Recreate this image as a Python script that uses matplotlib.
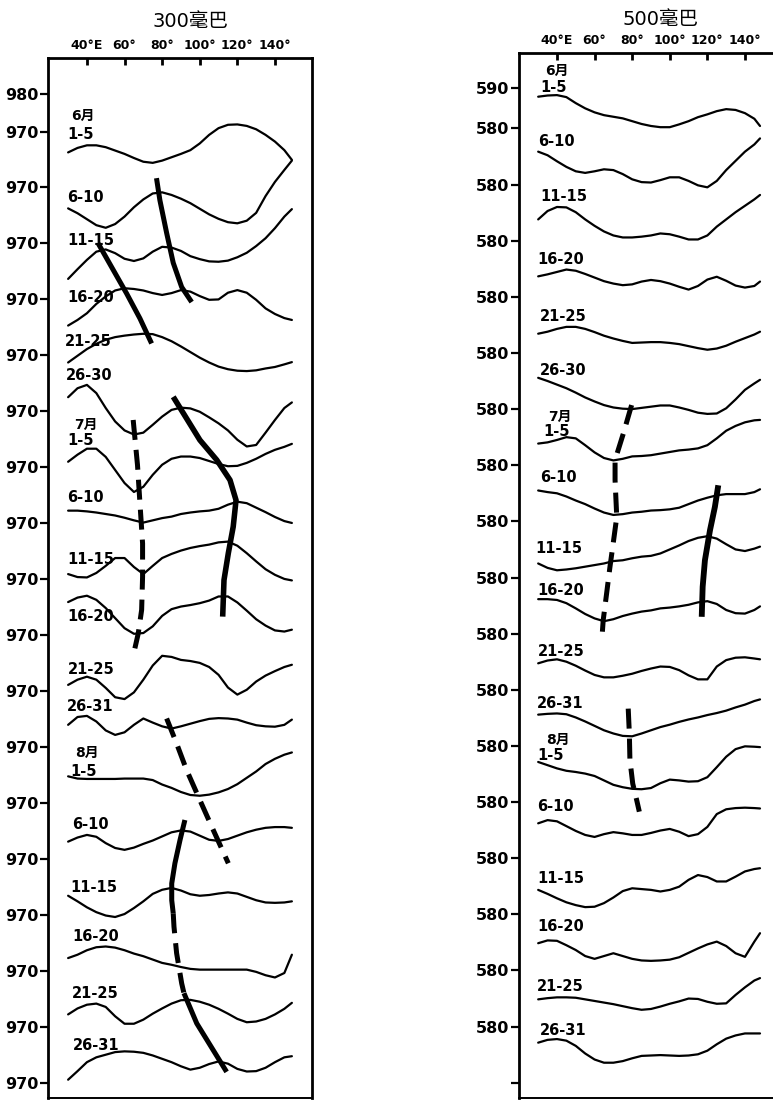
"""
Hemisphere 5-day mean height profiles at 300 hPa and 500 hPa,
June - August, with ridge (solid) and trough (dashed) axes.
Output: out.png
"""

import numpy as np
import matplotlib
matplotlib.use("Agg")
import matplotlib.pyplot as plt

plt.rcParams["font.family"] = ["DejaVu Sans", "Noto Sans CJK SC"]

# ---------------------------------------------------------------- data
LON_300 = [30, 35, 40, 45, 50, 55, 60, 65, 70, 75, 80, 85, 90, 95,
           100, 105, 110, 115, 120, 125, 130, 135, 140, 145, 149]
LON_500 = [30, 35, 40, 45, 50, 55, 60, 65, 70, 75, 80, 85, 90, 95,
           100, 105, 110, 115, 120, 125, 130, 135, 140, 145, 148]

PERIODS = ["1-5", "6-10", "11-15", "16-20", "21-25", "26-30",
           "1-5", "6-10", "11-15", "16-20", "21-25", "26-31",
           "1-5", "6-10", "11-15", "16-20", "21-25", "26-31"]
MONTHS = {0: "6月", 6: "7月", 12: "8月"}

# 300 hPa heights (dam), one row per pentad
H300 = [
    [964.4, 965.6, 966.3, 966.3, 965.8, 964.9, 964.0, 962.9, 961.9, 961.6, 962.2, 963.1, 964.0,
     965.0, 966.8, 969.1, 970.9, 971.8, 971.9, 971.5, 970.6, 969.1, 967.3, 965.0, 962.4],
    [964.4, 963.1, 961.5, 959.9, 959.2, 960.2, 962.2, 964.7, 966.8, 968.4, 968.7, 968.0, 967.0,
     965.8, 964.3, 962.8, 961.6, 960.7, 960.4, 961.1, 963.2, 967.7, 971.5, 974.7, 977.2],
    [960.5, 963.1, 965.6, 967.8, 968.4, 967.4, 965.9, 965.3, 966.0, 967.8, 969.1, 968.9, 968.0,
     966.6, 965.8, 965.2, 965.1, 965.4, 966.3, 967.5, 969.3, 971.4, 974.1, 977.2, 979.2],
    [963.0, 964.5, 966.3, 968.8, 970.8, 972.4, 973.0, 972.8, 972.4, 971.7, 971.2, 971.7, 972.5,
     972.1, 970.9, 969.9, 970.0, 971.8, 972.5, 971.8, 969.9, 967.6, 966.1, 965.0, 964.5],
    [968.1, 969.9, 971.7, 973.1, 974.2, 974.9, 975.3, 975.6, 975.8, 975.7, 974.9, 973.8, 972.4,
     970.9, 969.4, 968.1, 967.0, 966.3, 965.9, 965.8, 966.0, 966.5, 966.9, 967.6, 968.2],
    [973.8, 976.2, 977.1, 974.9, 970.9, 967.3, 964.9, 963.8, 964.3, 966.4, 968.6, 970.4, 971.0,
     970.8, 969.9, 968.4, 966.8, 964.9, 962.4, 960.6, 961.0, 964.3, 967.7, 970.9, 972.4],
    [971.5, 973.4, 975.0, 975.0, 972.8, 969.3, 965.8, 963.4, 964.8, 968.0, 970.7, 972.3, 972.9,
     972.9, 972.5, 971.7, 970.9, 970.3, 970.4, 971.2, 972.3, 973.6, 974.7, 975.5, 976.3],
    [973.4, 973.4, 973.2, 972.9, 972.5, 972.1, 971.5, 970.8, 970.2, 970.8, 971.4, 971.8, 972.5,
     972.9, 973.2, 973.4, 973.9, 975.0, 975.8, 975.4, 974.2, 973.0, 971.7, 970.6, 970.1],
    [971.4, 970.6, 970.5, 971.7, 973.6, 975.7, 975.7, 973.3, 971.4, 973.6, 975.7, 976.8, 977.7,
     978.4, 978.9, 979.3, 979.9, 980.1, 979.0, 977.0, 974.8, 972.7, 971.2, 970.1, 969.7],
    [978.9, 980.1, 980.6, 979.5, 977.3, 974.6, 971.9, 970.4, 970.6, 972.4, 975.2, 977.0, 977.7,
     978.1, 978.6, 979.3, 980.4, 980.4, 978.8, 976.6, 974.3, 972.6, 971.3, 971.0, 971.5],
    [971.7, 973.1, 973.9, 973.1, 970.9, 968.4, 967.9, 969.7, 973.1, 976.9, 979.5, 979.2, 978.4,
     978.1, 977.6, 976.5, 974.4, 971.0, 969.1, 970.4, 972.6, 974.2, 975.4, 976.5, 977.1],
    [976.0, 978.1, 978.4, 976.9, 974.5, 973.3, 974.0, 976.0, 977.7, 976.6, 975.6, 975.0, 975.6,
     976.3, 977.0, 977.6, 977.8, 977.7, 977.4, 976.6, 975.9, 975.6, 975.5, 976.0, 977.4],
    [977.2, 976.6, 976.5, 976.5, 976.5, 976.5, 976.6, 976.6, 976.6, 976.2, 975.0, 974.1, 973.0,
     972.2, 972.0, 972.3, 972.9, 973.8, 975.1, 976.8, 978.5, 980.5, 981.9, 983.0, 983.6],
    [974.7, 975.8, 976.5, 976.0, 974.3, 973.0, 972.5, 973.1, 974.1, 975.0, 976.1, 977.2, 977.7,
     977.4, 976.3, 975.2, 974.9, 975.4, 976.3, 977.2, 977.9, 978.4, 978.6, 978.6, 978.4],
    [975.2, 973.7, 972.1, 970.8, 969.9, 969.5, 970.3, 971.9, 973.7, 975.7, 976.8, 977.3, 976.6,
     975.6, 975.2, 975.4, 975.8, 976.1, 975.8, 974.9, 974.0, 973.4, 973.3, 973.4, 973.7],
    [973.5, 974.4, 975.6, 976.4, 976.6, 976.3, 975.6, 974.7, 974.0, 973.1, 972.2, 971.7, 971.1,
     970.6, 970.4, 970.4, 970.4, 970.4, 970.4, 970.4, 969.8, 968.9, 968.3, 969.5, 974.4],
    [973.4, 975.0, 976.0, 976.3, 975.4, 972.9, 970.9, 970.9, 972.0, 973.6, 975.0, 976.3, 977.2,
     977.3, 976.8, 976.0, 974.9, 973.6, 972.2, 971.3, 971.5, 972.2, 973.4, 974.9, 976.5],
    [970.9, 973.2, 975.6, 976.9, 977.6, 978.3, 978.5, 978.4, 978.1, 977.4, 976.5, 975.6, 974.5,
     973.6, 974.1, 975.1, 975.8, 975.2, 973.8, 973.1, 973.2, 974.1, 975.6, 976.9, 977.2],
]

# 500 hPa heights (dam)
H500 = [
    [587.9, 588.2, 588.3, 587.8, 586.3, 585.0, 584.0, 583.3, 582.9, 582.5, 581.8, 581.1, 580.6,
     580.3, 580.3, 581.0, 581.8, 582.8, 583.5, 584.3, 584.8, 584.6, 583.8, 582.4, 580.6],
    [588.2, 587.3, 585.8, 584.4, 583.3, 582.9, 583.3, 583.8, 583.6, 582.6, 581.3, 580.6, 580.5,
     581.1, 581.8, 581.8, 580.9, 579.8, 579.3, 580.9, 583.6, 585.9, 588.2, 590.0, 591.5],
    [585.3, 587.4, 588.4, 588.3, 587.1, 585.3, 583.7, 582.3, 581.3, 580.8, 580.8, 581.0, 581.3,
     581.8, 581.6, 581.0, 580.3, 580.3, 581.3, 583.5, 585.3, 587.1, 588.7, 590.3, 591.4],
    [585.1, 585.6, 586.2, 586.8, 586.5, 585.7, 584.8, 583.9, 583.3, 582.9, 583.1, 583.8, 584.2,
     583.9, 583.3, 582.5, 581.8, 582.7, 584.3, 585.0, 584.0, 582.8, 582.3, 582.7, 583.8],
    [584.8, 585.3, 586.0, 586.5, 586.5, 586.0, 585.2, 584.3, 583.6, 583.0, 582.5, 582.6, 582.7,
     582.7, 582.5, 582.2, 581.7, 581.2, 580.8, 581.1, 581.8, 582.8, 583.7, 584.6, 585.3],
    [587.8, 587.0, 586.1, 585.2, 584.1, 582.9, 581.9, 581.0, 580.4, 580.1, 580.0, 580.3, 580.6,
     580.9, 580.9, 580.4, 579.8, 579.1, 578.8, 578.9, 580.2, 582.4, 584.8, 586.4, 587.3],
    [585.4, 585.7, 586.3, 587.0, 586.7, 585.0, 583.2, 581.8, 581.2, 581.6, 582.2, 582.3, 582.5,
     582.9, 583.3, 583.7, 583.9, 584.2, 585.0, 586.7, 588.6, 589.8, 590.7, 591.2, 591.3],
    [587.7, 587.3, 587.0, 586.2, 585.2, 584.3, 583.2, 582.2, 581.6, 581.8, 582.2, 582.4, 582.7,
     582.8, 583.0, 583.4, 584.3, 585.2, 585.9, 586.5, 586.8, 586.8, 586.8, 587.3, 588.0],
    [583.5, 582.4, 581.8, 582.0, 582.3, 582.7, 583.1, 583.5, 584.1, 584.3, 584.8, 585.2, 585.4,
     586.0, 587.0, 588.0, 589.1, 589.9, 590.3, 589.7, 588.3, 587.0, 586.6, 587.2, 587.7],
    [588.6, 588.6, 588.4, 587.6, 586.3, 584.9, 583.8, 583.1, 583.6, 584.4, 585.0, 585.5, 585.8,
     586.3, 586.5, 586.8, 587.2, 587.8, 588.1, 587.4, 585.9, 585.1, 585.0, 585.9, 586.8],
    [586.6, 587.3, 587.6, 587.0, 586.0, 584.8, 583.7, 583.1, 583.1, 583.5, 584.0, 584.7, 585.3,
     585.8, 585.7, 584.9, 583.6, 582.6, 582.6, 585.8, 587.4, 588.0, 588.1, 587.8, 587.6],
    [587.8, 588.0, 588.1, 587.9, 587.1, 586.1, 585.0, 583.9, 583.1, 582.5, 582.4, 583.1, 583.9,
     584.7, 585.3, 586.0, 586.6, 587.1, 587.7, 588.2, 588.8, 589.6, 590.3, 591.2, 591.6],
    [590.0, 589.2, 588.4, 587.8, 587.5, 587.1, 586.5, 585.4, 584.3, 583.7, 583.3, 583.2, 583.5,
     584.7, 585.6, 585.4, 585.1, 585.2, 586.2, 588.7, 591.3, 593.2, 593.9, 593.8, 593.7],
    [588.7, 589.5, 589.2, 588.0, 586.8, 585.8, 585.3, 586.0, 586.5, 586.2, 585.8, 585.8, 586.3,
     586.9, 587.3, 586.6, 585.5, 586.0, 587.8, 591.0, 592.2, 592.5, 592.6, 592.5, 592.4],
    [586.1, 585.1, 584.0, 583.0, 582.3, 581.8, 581.9, 582.8, 584.2, 585.8, 586.5, 586.3, 586.1,
     585.7, 586.1, 586.9, 588.6, 589.8, 589.3, 588.2, 588.2, 589.4, 590.7, 591.3, 591.5],
    [586.8, 587.5, 587.4, 586.3, 585.1, 583.6, 582.9, 583.6, 584.3, 583.6, 582.9, 582.5, 582.4,
     582.5, 582.7, 583.3, 584.4, 585.5, 586.5, 587.2, 586.1, 584.3, 583.4, 587.2, 589.3],
    [586.8, 587.1, 587.3, 587.3, 587.2, 586.8, 586.4, 586.0, 585.6, 585.1, 584.6, 584.2, 584.4,
     585.0, 585.7, 586.3, 587.0, 586.9, 586.2, 585.7, 585.8, 587.9, 589.8, 591.5, 592.1],
    [590.0, 590.7, 590.9, 590.5, 589.2, 587.3, 585.8, 585.0, 585.0, 585.4, 586.1, 586.7, 586.8,
     586.9, 586.8, 586.7, 586.8, 587.1, 588.0, 589.6, 591.0, 591.8, 592.3, 592.3, 592.3],
]

# ridge / trough axes, in the stacked-axis units of each panel
RIDGE_300_A_LON = [77.0, 78.8, 82.4, 85.9, 90.4, 95.7]
RIDGE_300_A_Y = [957.5, 951.6, 942.8, 934.8, 928.3, 924.3]
RIDGE_300_B_LON = [46.0, 54.0, 61.1, 68.2, 74.4]
RIDGE_300_B_Y = [940.0, 932.9, 926.6, 919.9, 913.2]
RIDGE_300_C_LON = [85.9, 100.1, 109.0, 116.1, 119.3, 117.8, 115.2, 112.9, 112.2]
RIDGE_300_C_Y = [898.9, 887.3, 882.0, 876.6, 871.2, 864.1, 857.0, 849.8, 840.0]
TROUGH_300_D_LON = [64.6, 66.9, 68.2, 69.6, 69.6, 69.1, 67.3, 65.5]
TROUGH_300_D_Y = [892.7, 880.6, 870.4, 859.6, 850.7, 841.8, 835.5, 831.5]
TROUGH_300_E_LON = [82.4, 87.7, 93.0, 100.1, 107.2, 115.2]
TROUGH_300_E_Y = [812.7, 806.0, 798.9, 790.8, 782.8, 773.9]
RIDGE_300_F1_LON = [92.1, 89.5, 86.8, 85.1, 85.1, 85.9]
RIDGE_300_F1_Y = [785.5, 780.1, 773.9, 768.5, 764.0, 760.5]
RIDGE_300_F2_LON = [85.9, 86.3, 87.7, 90.4, 91.6]
RIDGE_300_F2_Y = [760.5, 756.9, 749.8, 741.7, 739.1]
RIDGE_300_F3_LON = [91.6, 98.4, 107.2, 114.3]
RIDGE_300_F3_Y = [739.1, 731.0, 723.8, 718.0]

TROUGH_500_G_LON = [79.7, 75.3, 70.9, 70.9, 71.8, 69.9, 68.2, 66.4, 64.6, 64.1]
TROUGH_500_G_Y = [511.0, 503.9, 497.3, 492.3, 483.1, 476.5, 470.7, 464.0, 457.4, 454.1]
RIDGE_500_H_LON = [125.8, 124.0, 121.4, 118.7, 117.5, 117.0]
RIDGE_500_H_Y = [491.0, 485.6, 479.8, 472.3, 465.7, 458.2]
TROUGH_500_I_LON = [77.9, 78.5, 78.8, 80.3, 82.4, 83.8]
TROUGH_500_I_Y = [435.3, 429.1, 422.5, 416.6, 412.5, 409.6]

# ---------------------------------------------------------------- layout
STEP_300, BASE_300, TOP_300 = 15.0, 970, 980
STEP_500, BASE_500, TOP_500 = 14.0, 580, 590

LABEL_LON_300 = [29.4, 29.4, 29.4, 29.4, 28.3, 28.8, 29.4, 29.4, 29.4,
                 29.4, 29.9, 29.4, 31.0, 32.0, 31.0, 32.0, 32.0, 32.6]
LABEL_Y_300 = [969.1, 952.4, 940.9, 925.6, 913.6, 904.5, 887.1, 871.8, 855.4,
               839.9, 825.9, 816.0, 798.6, 784.4, 767.3, 754.4, 738.9, 725.2]
MONTH_POS_300 = {0: (37.9, 974.2), 6: (39.5, 891.4), 12: (40.0, 803.4)}

LABEL_LON_500 = [31.0, 29.9, 31.0, 29.4, 31.0, 31.0, 32.6, 31.0, 28.3,
                 29.4, 29.9, 29.4, 29.4, 29.4, 29.4, 29.4, 29.4, 31.0]
LABEL_Y_500 = [590.1, 576.8, 562.9, 547.2, 533.2, 519.5, 504.5, 493.0, 475.3,
               464.8, 449.6, 436.7, 423.7, 411.0, 393.0, 381.0, 366.0, 355.0]
MONTH_POS_500 = {0: (40.0, 594.3), 6: (41.6, 508.0), 12: (40.5, 427.5)}

W, H = 773, 1101


def draw_panel(ax, lon, heights, step, base, top, label_lon, label_y,
               month_pos, xlim, ylim):
    for i, h in enumerate(heights):
        ax.plot(lon, np.array(h) - i * step, color="black", lw=1.6,
                solid_joinstyle="round", solid_capstyle="round")
        ax.text(label_lon[i], label_y[i], PERIODS[i], fontsize=10.5,
                fontweight="bold", ha="left", va="center")
    for i, (mx, my) in month_pos.items():
        ax.text(mx, my, MONTHS[i], fontsize=10, fontweight="bold",
                ha="center", va="center")

    ax.set_xlim(*xlim)
    ax.set_ylim(*ylim)

    # stacked y ticks: one reference level per curve
    yt = [top] + [base - i * step for i in range(len(heights))]
    ax.set_yticks(yt)
    ax.tick_params(axis="y", direction="out", length=6, width=1.6,
                   labelsize=11.5, pad=1)
    for t in ax.get_yticklabels():
        t.set_fontweight("bold")

    ax.xaxis.tick_top()
    ax.set_xticks([40, 60, 80, 100, 120, 140])
    ax.set_xticklabels(["40°E", "60°", "80°", "100°", "120°", "140°"],
                       fontsize=9, fontweight="bold")
    ax.tick_params(axis="x", direction="in", length=5, width=2, pad=4)

    for s in ax.spines.values():
        s.set_linewidth(2)
    ax.spines["bottom"].set_linewidth(1.4)


def thick(ax, lon, y, dashed=False, lw=3.6):
    ls = (0, (4, 2)) if dashed else "-"
    ax.plot(lon, y, color="black", lw=lw, linestyle=ls,
            solid_capstyle="butt", dash_capstyle="butt")


def main() -> None:
    fig = plt.figure(figsize=(W / 100, H / 100), dpi=100)

    ax1 = fig.add_axes([48 / W, 3 / H, 264 / W, 1040 / H])
    ax2 = fig.add_axes([519 / W, 3 / H, 263 / W, 1045 / H])

    draw_panel(ax1, LON_300, H300, STEP_300, BASE_300, TOP_300,
               LABEL_LON_300, LABEL_Y_300, MONTH_POS_300,
               (19.3, 159.7), (711.0, 989.7))
    ax1.set_yticklabels([str(TOP_300)] + [str(BASE_300)] * len(H300))

    draw_panel(ax2, LON_500, H500, STEP_500, BASE_500, TOP_500,
               LABEL_LON_500, LABEL_Y_500, MONTH_POS_500,
               (19.8, 159.7), (338.2, 598.8))
    ax2.set_yticklabels([str(TOP_500)] + [str(BASE_500)] * (len(H500) - 1) + [""])
    for t in ax1.get_yticklabels() + ax2.get_yticklabels():
        t.set_fontweight("bold")
    ax2.spines["right"].set_visible(False)

    # ridge (solid) and trough (dashed) axes
    thick(ax1, RIDGE_300_A_LON, RIDGE_300_A_Y)
    thick(ax1, RIDGE_300_B_LON, RIDGE_300_B_Y)
    thick(ax1, RIDGE_300_C_LON, RIDGE_300_C_Y, lw=4)
    thick(ax1, TROUGH_300_D_LON, TROUGH_300_D_Y, dashed=True)
    thick(ax1, TROUGH_300_E_LON, TROUGH_300_E_Y, dashed=True)
    thick(ax1, RIDGE_300_F1_LON, RIDGE_300_F1_Y)
    thick(ax1, RIDGE_300_F2_LON, RIDGE_300_F2_Y, dashed=True)
    thick(ax1, RIDGE_300_F3_LON, RIDGE_300_F3_Y)

    thick(ax2, TROUGH_500_G_LON, TROUGH_500_G_Y, dashed=True)
    thick(ax2, RIDGE_500_H_LON, RIDGE_500_H_Y, lw=4.2)
    thick(ax2, TROUGH_500_I_LON, TROUGH_500_I_Y, dashed=True)

    fig.text(190 / W, 1 - 21 / H, "300毫巴", fontsize=14, ha="center", va="center")
    fig.text(661 / W, 1 - 20 / H, "500毫巴", fontsize=14, ha="center", va="center")

    fig.savefig("out.png", dpi=100)
    plt.close(fig)


if __name__ == "__main__":
    main()
